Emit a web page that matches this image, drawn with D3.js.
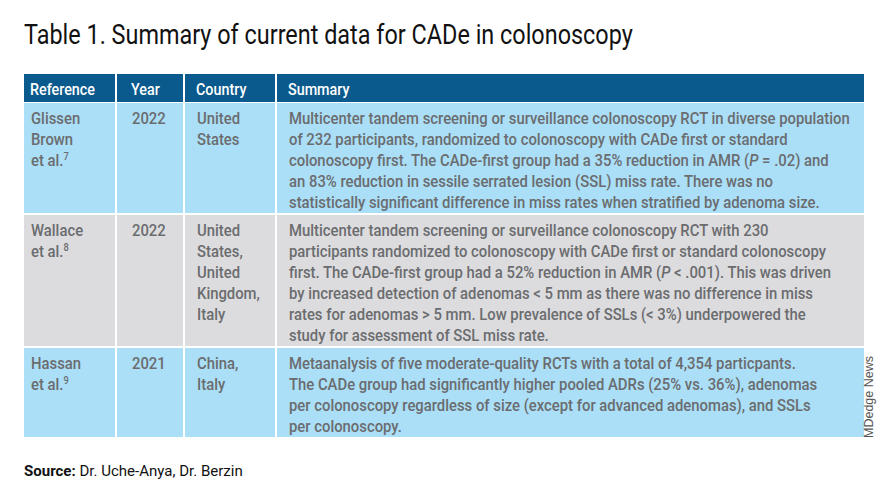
<!DOCTYPE html>
<html><head><meta charset="utf-8">
<script src="https://cdn.jsdelivr.net/npm/d3@7"></script>
<style>body{margin:0;background:#fff}svg{display:block}</style>
</head><body>
<svg id="c" width="888" height="504"></svg>
<script>
// ---- data ----
const title = "Table 1. Summary of current data for CADe in colonoscopy";
const columns = ["Reference", "Year", "Country", "Summary"];
const references = [["Glissen", "Brown", "et al.^7"], ["Wallace", "et al.^8"], ["Hassan", "et al.^9"]];
const years = [["2022"], ["2022"], ["2021"]];
const countries = [["United", "States"], ["United", "States,", "United", "Kingdom,", "Italy"], ["China,", "Italy"]];
const summaries = [
  ["Multicenter tandem screening or surveillance colonoscopy RCT in diverse population",
   "of 232 participants, randomized to colonoscopy with CADe first or standard",
   "colonoscopy first. The CADe-first group had a 35% reduction in AMR (_P_ = .02) and",
   "an 83% reduction in sessile serrated lesion (SSL) miss rate. There was no",
   "statistically significant difference in miss rates when stratified by adenoma size."],
  ["Multicenter tandem screening or surveillance colonoscopy RCT with 230",
   "participants randomized to colonoscopy with CADe first or standard colonoscopy",
   "first. The CADe-first group had a 52% reduction in AMR (_P_ < .001). This was driven",
   "by increased detection of adenomas < 5 mm as there was no difference in miss",
   "rates for adenomas > 5 mm. Low prevalence of SSLs (< 3%) underpowered the",
   "study for assessment of SSL miss rate."],
  ["Metaanalysis of five moderate-quality RCTs with a total of 4,354 particpants.",
   "The CADe group had significantly higher pooled ADRs (25% vs. 36%), adenomas",
   "per colonoscopy regardless of size (except for advanced adenomas), and SSLs",
   "per colonoscopy."]
];
const sourceLabel = "Source:";
const sourceText = " Dr. Uche-Anya, Dr. Berzin";
const credit = "MDedge News";

// ---- layout / style ----
const W = 888, H = 504;
const FONT = "Roboto, 'Open Sans', sans-serif";
const colLeft = [24, 117, 185, 277];
const colRight = [115, 183, 275, 864];
const textX = [31, 132, 197, 289];
const headerTop = 74, headerH = 28;
const lineH = 21;
const rowColors = ["#aadff7", "#dcdcde", "#aadff7"];
const headerColor = "#0b5a8d";
const textColor = "#6b6c6f";

const svg = d3.select("#c");
svg.append("rect").attr("width", W).attr("height", H).attr("fill", "#fff");

// measure a horizontal compression factor so the fonts look condensed like the original
function scaleFor(str, size, weight, target) {
  const t = svg.append("text").attr("font-family", FONT).attr("font-size", size)
    .attr("font-weight", weight).text(str.replace(/_/g, ""));
  const w = t.node().getComputedTextLength();
  t.remove();
  return target / w;
}
const sTitle = scaleFor(title, 27, 400, 609);
const sBody = scaleFor(summaries[0][0], 16.5, 500, 561);
const sHead = scaleFor("Reference", 17, 500, 65);

function addLine(g, str, x, y, size, weight, fill, s) {
  const t = g.append("text")
    .attr("transform", `translate(${x},${y}) scale(${s},1)`)
    .attr("font-family", FONT).attr("font-size", size)
    .attr("font-weight", weight).attr("fill", fill);
  const parts = str.split(/(_[^_]+_|\^\d+)/).filter(p => p.length);
  parts.forEach(p => {
    if (p.startsWith("_")) {
      t.append("tspan").attr("font-style", "italic").text(p.slice(1, -1));
    } else if (p.startsWith("^")) {
      t.append("tspan").attr("font-size", size * 0.62).attr("dy", -size * 0.38).text(p.slice(1));
    } else {
      t.append("tspan").text(p);
    }
  });
  return t;
}

// title
addLine(svg, title, 24, 44, 27, 400, "#111", sTitle);

// header
const hdr = svg.append("g");
hdr.selectAll("rect").data(columns).join("rect")
  .attr("x", (d, i) => colLeft[i]).attr("y", headerTop)
  .attr("width", (d, i) => colRight[i] - colLeft[i]).attr("height", headerH)
  .attr("fill", headerColor);
columns.forEach((c, i) => addLine(hdr, c, textX[i] - 1, headerTop + 21, 17, 500, "#fff", sHead));

// rows
const rows = references.map((r, i) => ({
  cells: [r, years[i], countries[i], summaries[i]],
  n: Math.max(r.length, years[i].length, countries[i].length, summaries[i].length),
  color: rowColors[i]
}));
let y0 = headerTop + headerH + 1;
rows.forEach(r => { r.top = y0; r.h = r.n * lineH + 5; y0 += r.h + 2; });

const rowG = svg.selectAll("g.row").data(rows).join("g").attr("class", "row");
rowG.each(function (r) {
  const g = d3.select(this);
  r.cells.forEach((lines, ci) => {
    g.append("rect").attr("x", colLeft[ci]).attr("y", r.top)
      .attr("width", colRight[ci] - colLeft[ci]).attr("height", r.h).attr("fill", r.color);
    lines.forEach((ln, li) => addLine(g, ln, textX[ci], r.top + 21 + li * lineH, 16.5, 500, textColor, sBody));
  });
});

// source
const src = svg.append("text").attr("x", 24).attr("y", 476)
  .attr("font-family", FONT).attr("font-size", 14).attr("fill", "#111");
src.append("tspan").attr("font-weight", 700).text(sourceLabel);
src.append("tspan").text(sourceText);
const sw = src.node().getComputedTextLength();
src.attr("transform", `translate(24,0) scale(${219 / sw},1) translate(-24,0)`);

// credit
svg.append("text").attr("transform", "translate(873,438) rotate(-90)")
  .attr("font-family", "'Liberation Sans', Arial, sans-serif").attr("font-size", 12.5)
  .attr("fill", "#555").text(credit);
</script>
</body></html>
